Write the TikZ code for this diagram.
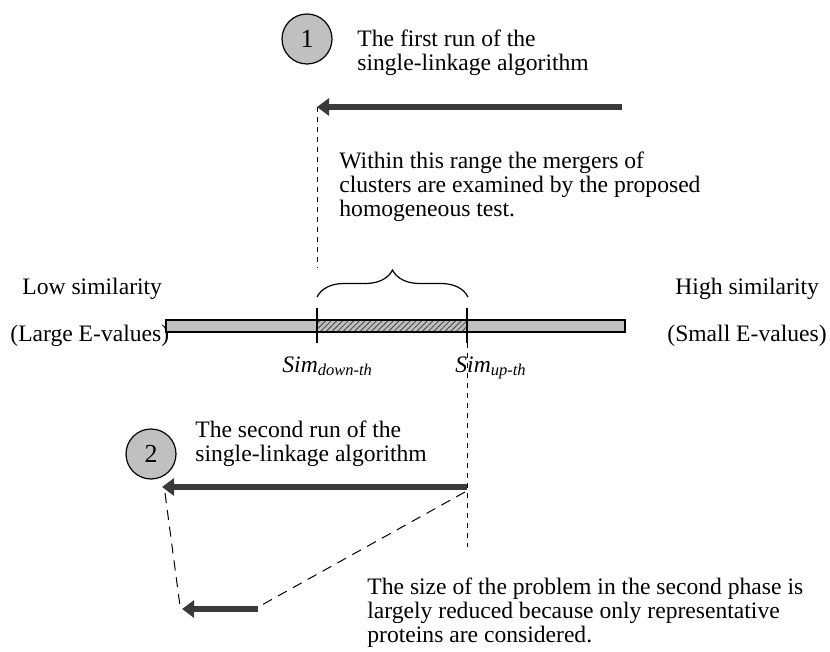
\documentclass[tikz,border=0pt]{standalone}
\usepackage{fontspec}
\setmainfont{Liberation Serif}
\usetikzlibrary{arrows.meta, decorations.pathreplacing, patterns.meta}
\definecolor{barfill}{HTML}{C0C0C0}
\definecolor{arrowink}{HTML}{3A3A3A}
\definecolor{hatchink}{HTML}{505050}

\begin{document}
\begin{tikzpicture}[x=0.5pt, y=-0.5pt,
  every node/.style={font=\fontsize{11.8}{12}\selectfont, inner sep=0pt},
  textblock/.style={anchor=base west, align=left},
  runarrow/.style={arrowink, line width=3pt, -{Triangle[length=6pt, width=8.5pt]}},
  shortdash/.style={line width=0.5pt, dash pattern=on 2.5pt off 2.5pt},
  longdash/.style={line width=0.5pt, dash pattern=on 5pt off 3.5pt},
  stepmark/.style={circle, draw, fill=barfill, line width=0.6pt, minimum size=25pt,
    font=\fontsize{13}{13}\selectfont},
  tickmark/.style={line width=0.7pt}]
  \useasboundingbox (0,0) rectangle (830,652);
  % first run (multi-line nodes sit on their last baseline)
  \node[stepmark] (one) at (307,39) {1};
  \node[textblock] (runone) at (357,71) {The first run of the\\single-linkage algorithm};
  \coordinate (aones) at (622,107);
  \coordinate (aonee) at (317,107);
  \draw[runarrow] (aones) -- (aonee);
  \coordinate (dashone) at (317,268);
  \draw[shortdash] (aonee) -- (dashone);
  \node[textblock] (range) at (339,217)
    {Within this range the mergers of\\clusters are examined by the proposed\\homogeneous test.};
  \draw[decorate, decoration={brace, amplitude=13.5pt}, line width=0.6pt]
    (317,297) -- (468,297);
  % similarity scale
  \node[anchor=base west] (low) at (22,295) {Low similarity};
  \node[anchor=base west] (large) at (10,342) {(Large E-values)};
  \node[anchor=base west] (high) at (675,295) {High similarity};
  \node[anchor=base west] (small) at (667,342) {(Small E-values)};
  \draw[line width=0.6pt, fill=barfill] (166,320) rectangle (625,332);
  \draw[line width=0.6pt, pattern={Lines[angle=45, distance=2pt, line width=0.5pt]},
    pattern color=hatchink] (317,320) rectangle (467,332);
  \coordinate (downtop) at (317,308);
  \coordinate (downbot) at (317,343);
  \coordinate (uptop) at (467,308);
  \coordinate (upbot) at (467,343);
  \draw[tickmark] (downtop) -- (downbot);
  \draw[tickmark] (uptop) -- (upbot);
  \node[anchor=base west] (simdown) at (282,372) {\textit{Sim}\textsubscript{\textit{down-th}}};
  \node[anchor=base west] (simup) at (455,372) {\textit{Sim}\textsubscript{\textit{up-th}}};
  % second run
  \node[stepmark] (two) at (151,454) {2};
  \node[textblock] (runtwo) at (195,461) {The second run of the\\single-linkage algorithm};
  \coordinate (atwos) at (467,487);
  \coordinate (atwoe) at (162,487);
  \coordinate (dashtwo) at (467,547);
  \draw[shortdash] (upbot) -- (dashtwo);
  \draw[runarrow] (atwos) -- (atwoe);
  \coordinate (zoomleft) at (180,606);
  \coordinate (zoomright) at (260,606);
  \draw[longdash] (165,493) -- (zoomleft);
  \draw[longdash] (465,492) -- (zoomright);
  \coordinate (athrees) at (258,609);
  \coordinate (athreee) at (182,609);
  \draw[runarrow] (athrees) -- (athreee);
  \node[textblock] (reduced) at (367,642)
    {The size of the problem in the second phase is\\largely reduced because only representative\\proteins are considered.};
\end{tikzpicture}
\end{document}
